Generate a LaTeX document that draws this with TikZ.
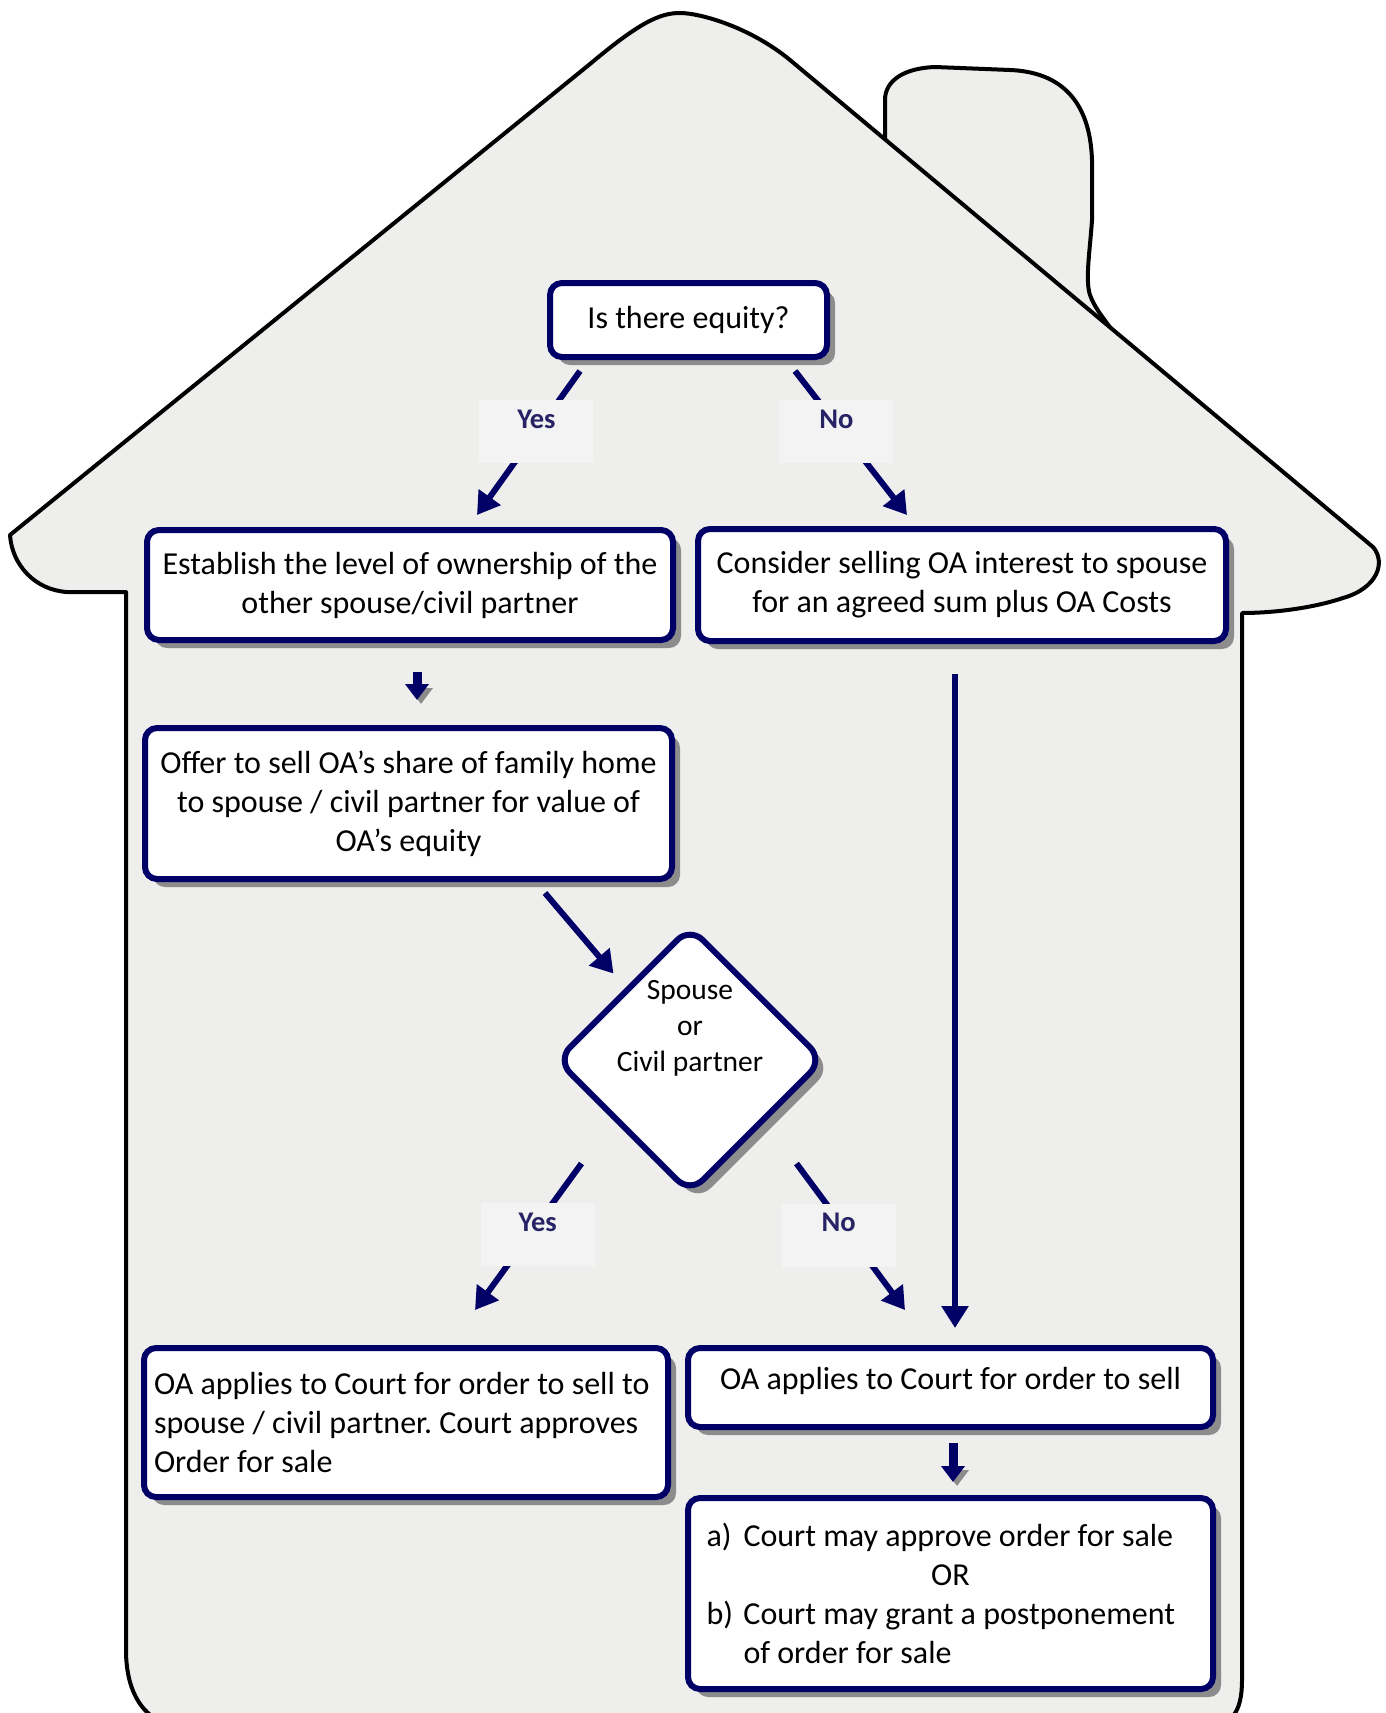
\documentclass[tikz,border=0pt]{standalone}
\usepackage{fontspec}
\setmainfont{Carlito}
\usetikzlibrary{arrows.meta,shapes.geometric,shadows,positioning}
\definecolor{navy}{RGB}{0,0,102}
\definecolor{tagtext}{RGB}{40,35,100}
\definecolor{wall}{RGB}{238,238,236}
\definecolor{tagfill}{RGB}{243,243,243}
\frenchspacing

\begin{document}
\begin{tikzpicture}[x=1pt,y=-1pt,
    house/.style={draw=black,line width=4pt,fill=wall,line join=round},
    box/.style={draw=navy,line width=6pt,fill=white,rounded corners=12pt,
      drop shadow={shadow xshift=8pt,shadow yshift=-8pt,fill=black!45,opacity=1},
      align=center,inner sep=0pt,font=\fontsize{32}{39}\selectfont},
    choice/.style={diamond,draw=navy,line width=6pt,fill=white,rounded corners=18pt,
      drop shadow={shadow xshift=8pt,shadow yshift=-8pt,fill=black!45,opacity=1},
      minimum width=268pt,minimum height=268pt,inner sep=0pt},
    tag/.style={fill=tagfill,text=tagtext,font=\bfseries\fontsize{28.5}{34}\selectfont,
      minimum width=114pt,inner sep=0pt,text height=28pt,text depth=35pt},
    flow/.style={draw=navy,line width=6pt,-{Triangle[width=26pt,length=22pt]}},
    step arrow/.style={draw=navy,line width=9pt,-{Triangle[width=23pt,length=16pt]},
      preaction={draw=black!45,transform canvas={shift={(4pt,-4pt)}}}}]

  \useasboundingbox (0,0) rectangle (1386,1713);

  % chimney, then the house over it
  \draw[house] (885,160) -- (885,100) .. controls (885,80) and (905,68) .. (935,67)
    -- (1010,70) .. controls (1060,72) and (1090,100) .. (1092,160)
    -- (1092,220) .. controls (1090,250) and (1085,280) .. (1090,295)
    .. controls (1094,306) and (1100,314) .. (1115,334) -- (1115,400) -- (885,400) -- cycle;
  \draw[house] (126,1650) -- (126,592) -- (67,592) .. controls (35,590) and (12,565) .. (10,535)
    -- (590,64) .. controls (640,22) and (660,13) .. (680,13)
    .. controls (700,13) and (750,27) .. (790,60)
    -- (1373,547) .. controls (1386,562) and (1378,588) .. (1343,598)
    .. controls (1310,609) and (1270,613) .. (1242,613)
    -- (1242,1680) .. controls (1242,1712) and (1232,1728) .. (1200,1728)
    -- (190,1728) .. controls (150,1728) and (126,1700) .. (126,1650) -- cycle;

  \node[box,minimum width=277pt,minimum height=74pt] (equity) at (688.5,320) {Is there equity?};
  \node[box,minimum width=526pt,minimum height=110pt] (establish) at (410,585)
    {Establish the level of ownership of the\\other spouse/civil partner};
  \node[box,minimum width=528pt,minimum height=112pt] (consider) at (962,585)
    {Consider selling OA interest to spouse\\for an agreed sum plus OA Costs};
  \node[box,minimum width=527pt,minimum height=151pt] (offer) at (408.5,803.5)
    {Offer to sell OA’s share of family home\\to spouse / civil partner for value of\\OA’s equity};
  \node[choice] (spouse) at (690,1060) {};
  \node[align=center,inner sep=0pt,font=\fontsize{29.5}{36}\selectfont] (spousetext) at (690,1028)
    {Spouse\\or\\Civil partner};
  \node[box,minimum width=524pt,minimum height=149pt,align=flush left,text width=504pt] (oaspouse) at (406,1422.5)
    {OA applies to Court for order to sell to\\spouse / civil partner. Court approves\\Order for sale};
  \node[box,minimum width=525pt,minimum height=79pt,text depth=18pt] (oasell) at (950.5,1387.5)
    {OA applies to Court for order to sell};
  \node[box,minimum width=525pt,minimum height=191pt,align=flush left,text width=488pt] (decision) at (950.5,1593.5)
    {\makebox[37pt][l]{a)}Court may approve order for sale\\
     \makebox[\linewidth]{OR}\\
     \makebox[37pt][l]{b)}Court may grant a postponement\\
     \hspace*{37pt}of order for sale};

  \draw[flow] ([xshift=-108.5pt,yshift=-11pt]equity.south) -- node[tag,pos=0.423] (yes1) {Yes}
    ([xshift=67pt,yshift=12pt]establish.north);
  \draw[flow] ([xshift=106.5pt,yshift=-11pt]equity.south) -- node[tag,pos=0.423,xshift=-6pt] (no1) {No}
    ([xshift=-55pt,yshift=11pt]consider.north);
  \draw[step arrow] ([xshift=7pt,yshift=-29pt]establish.south) -- ([xshift=8.5pt,yshift=25pt]offer.north);
  \draw[flow] ([xshift=136.5pt,yshift=-11pt]offer.south) -- ([xshift=-8pt,yshift=18pt]spouse.north west);
  \draw[flow] ([xshift=-40pt,yshift=-35pt]spouse.south west) -- node[tag,pos=0.487,xshift=8pt] (yes2) {Yes}
    ([xshift=69pt,yshift=35pt]oaspouse.north);
  \draw[flow] ([xshift=38pt,yshift=-35pt]spouse.south east) -- node[tag,pos=0.49,xshift=-11pt] (no2) {No}
    ([xshift=-45.5pt,yshift=35pt]oasell.north);
  \draw[flow] ([xshift=-7pt,yshift=-30pt]consider.south) -- ([xshift=4.5pt,yshift=17pt]oasell.north);
  \draw[step arrow] ([xshift=2.5pt,yshift=-13pt]oasell.south) -- ([xshift=2.5pt,yshift=13pt]decision.north);
\end{tikzpicture}
\end{document}
